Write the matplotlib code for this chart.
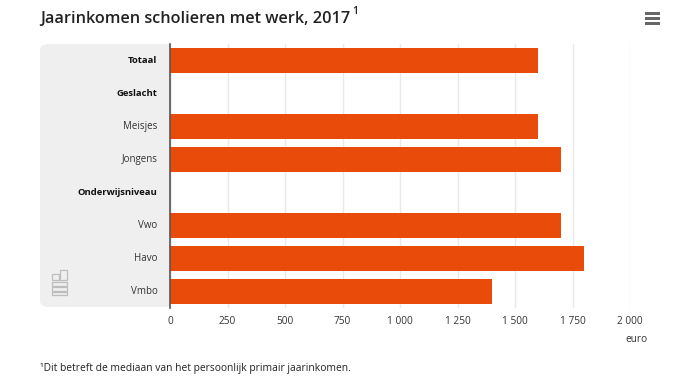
import matplotlib
matplotlib.use("Agg")
import matplotlib.pyplot as plt
from matplotlib.patches import FancyBboxPatch, Rectangle
from matplotlib.transforms import ScaledTranslation

categories = ["Totaal", "Geslacht", "Meisjes", "Jongens", "Onderwijsniveau", "Vwo", "Havo", "Vmbo"]
values = [1600, None, 1600, 1700, None, 1700, 1800, 1400]
bold_labels = ["Totaal", "Geslacht", "Onderwijsniveau"]
x_ticks = [0, 250, 500, 750, 1000, 1250, 1500, 1750, 2000]
x_labels = ["0", "250", "500", "750", "1 000", "1 250", "1 500", "1 750", "2 000"]

W, H = 694, 384
plt.rcParams["font.family"] = ["Open Sans", "DejaVu Sans"]
fig = plt.figure(figsize=(W / 100, H / 100), dpi=100)
ax = fig.add_axes([170 / W, 1 - 308 / H, 460 / W, 264 / H])


def fx(x):
    return x / W


def fy(y):
    return 1 - y / H


panel = FancyBboxPatch((fx(44), fy(303)), 124 / W, 255 / H,
                       boxstyle="round,pad=0,rounding_size=0.006",
                       transform=fig.transFigure, fc="#efefef", ec="#efefef", lw=8 * 0.72, zorder=0)
fig.add_artist(panel)
fig.add_artist(Rectangle((fx(160), fy(307)), 10 / W, 263 / H, transform=fig.transFigure,
                         fc="#efefef", ec="none", zorder=0))

ax.patch.set_alpha(0)
pos = list(range(len(categories)))
ax.barh([p for p, v in zip(pos, values) if v is not None],
        [v for v in values if v is not None],
        height=0.745, color="#e94c0a", zorder=3)
ax.set_xlim(0, 2000)
ax.set_ylim(len(categories) - 0.5, -0.5)
ax.set_xticks(x_ticks, x_labels)
ax.set_yticks(pos, categories)
ax.grid(axis="x", color="#e9e9e9", lw=1, zorder=1)
ax.set_axisbelow(True)
for s in ["top", "right", "bottom"]:
    ax.spines[s].set_visible(False)
ax.spines["left"].set_color("#555555")
ax.spines["left"].set_linewidth(1.2)
ax.spines["left"].set_zorder(5)
ax.tick_params(axis="both", length=0)
ax.tick_params(axis="x", pad=6, labelsize=7.3, labelcolor="#333333")
ax.tick_params(axis="y", pad=9, labelsize=7.0, labelcolor="#333333")
shift = ScaledTranslation(0, 1.2 / 100, fig.dpi_scale_trans)
for lab in ax.get_yticklabels():
    lab.set_transform(lab.get_transform() + shift)
    if lab.get_text() in bold_labels:
        lab.set_fontweight("bold")
        lab.set_fontsize(6.8)
        lab.set_color("#111111")

fig.text(fx(40), fy(19), "Jaarinkomen scholieren met werk, 2017", fontsize=11.7, fontweight="semibold",
         color="#222222", va="center", ha="left")
fig.text(fx(352), fy(12), "1", fontsize=7.5, fontweight="semibold", color="#222222", va="center", ha="left")
fig.text(fx(40), fy(368), "¹Dit betreft de mediaan van het persoonlijk primair jaarinkomen.", fontsize=7.4,
         color="#222222", va="center", ha="left")
fig.text(fx(647), fy(339), "euro", fontsize=7.3, color="#333333", va="center", ha="right")

# menu icon
for y in (13, 18, 23):
    fig.add_artist(Rectangle((fx(645), fy(y + 1.5)), 15 / W, 3 / H, transform=fig.transFigure,
                             fc="#666666", ec="none"))

# logo, outlined blocks
logo = "#bdbdbd"
for (x, y, w, h) in [(51.5, 274, 7, 6), (60, 270, 7, 10), (51.5, 281.5, 15.5, 4),
                     (51.5, 287, 15.5, 3.5), (51.5, 291.5, 15.5, 3.5)]:
    fig.add_artist(Rectangle((fx(x), fy(y + h)), w / W, h / H, transform=fig.transFigure,
                             fc="none", ec=logo, lw=0.9, zorder=2))

fig.savefig("out.png", dpi=100)
